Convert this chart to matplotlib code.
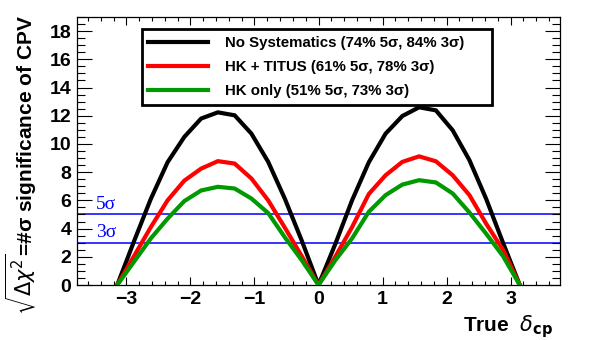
import numpy as np
import matplotlib
matplotlib.use("Agg")
import matplotlib.pyplot as plt
from matplotlib.ticker import MultipleLocator

# ---- data ----
k_index = np.arange(-12, 13)
delta_cp = k_index * np.pi / 12.0

no_syst = [0, 3.1, 6.1, 8.7, 10.5, 11.8, 12.24, 12.03, 10.73, 8.73, 6.1, 3.15, 0,
           2.9, 6.0, 8.7, 10.73, 11.98, 12.6, 12.38, 10.97, 8.85, 6.1, 3.0, 0]
hk_titus = [0, 2.05, 4.1, 6.0, 7.4, 8.25, 8.78, 8.61, 7.55, 6.0, 4.05, 2.05, 0,
            2.0, 4.1, 6.45, 7.78, 8.73, 9.12, 8.77, 7.78, 6.37, 4.34, 2.5, 0]
hk_only = [0, 1.65, 3.3, 4.7, 5.95, 6.7, 6.96, 6.84, 6.13, 5.1, 3.37, 1.76, 0,
           1.75, 3.3, 5.19, 6.37, 7.12, 7.43, 7.27, 6.49, 5.14, 3.63, 2.05, 0]

series_labels = ["No Systematics (74% 5σ, 84% 3σ)",
                 "HK + TITUS (61% 5σ, 78% 3σ)",
                 "HK only (51% 5σ, 73% 3σ)"]
series_colors = ["#000000", "#ff0000", "#009900"]

sigma_levels = [5, 3]
sigma_labels = ["5σ", "3σ"]

x_ticks = [-3, -2, -1, 0, 1, 2, 3]
y_ticks = [0, 2, 4, 6, 8, 10, 12, 14, 16, 18]

plt.rcParams['font.family'] = ['Liberation Sans', 'DejaVu Sans']

fig = plt.figure(figsize=(5.89, 3.40), dpi=100)
ax = fig.add_axes([77/589, 55/340, 483/589, 268/340])

for yv in sigma_levels:
    ax.axhline(yv, color="#0000ff", lw=1.1, zorder=1)

for vals, lab, col in zip([no_syst, hk_titus, hk_only], series_labels, series_colors):
    ax.plot(delta_cp, vals, color=col, lw=3.0, label=lab, zorder=3,
            solid_joinstyle='miter')

ax.set_xlim(-1.2*np.pi, 1.2*np.pi)
ax.set_ylim(0, 19)

ax.set_xticks(x_ticks)
ax.set_yticks(y_ticks)
ax.xaxis.set_minor_locator(MultipleLocator(0.2))
ax.yaxis.set_minor_locator(MultipleLocator(0.5))
ax.tick_params(axis='x', which='major', direction='in', length=6, width=0.8,
               top=True, bottom=True, labelsize=14, pad=4)
ax.tick_params(axis='x', which='minor', direction='in', length=3, width=0.8,
               top=True, bottom=True)
ax.tick_params(axis='y', which='major', direction='in', length=11, width=0.8,
               left=True, right=True, labelsize=14, pad=4)
ax.tick_params(axis='y', which='minor', direction='in', length=5.5, width=0.8,
               left=True, right=True)
for lbl in ax.get_xticklabels() + ax.get_yticklabels():
    lbl.set_fontweight('bold')
for sp in ax.spines.values():
    sp.set_linewidth(0.9)

# sigma labels
for yv, txt in zip(sigma_levels, sigma_labels):
    ax.text(-3.47, yv + 0.12, txt, color="#0000ff", fontsize=14,
            family=['Liberation Serif', 'DejaVu Serif'], ha='left', va='bottom')

leg = ax.legend(loc='upper left', bbox_to_anchor=(0.134, 0.675, 0.725, 0.279),
                mode='expand', fontsize=10.8, frameon=True, fancybox=False,
                framealpha=1, edgecolor='black', handlelength=4.0,
                handletextpad=1.1, labelspacing=0.68, borderpad=0.45,
                borderaxespad=0)
leg.get_frame().set_linewidth(2.0)
for t in leg.get_texts():
    t.set_fontweight('bold')
for ln in leg.get_lines():
    ln.set_linewidth(3.0)

fig.text(553/589, 1 - 331/340, r"True  $\delta_{\mathbf{cp}}$", fontsize=15,
         fontweight='bold', ha='right', va='baseline')
fig.text(21/589, 0.955, r"$\sqrt{\Delta\chi^{2}}$=#σ significance of CPV",
         fontsize=15, fontweight='bold', rotation=90, ha='center', va='top')

fig.savefig("out.png", dpi=100)
